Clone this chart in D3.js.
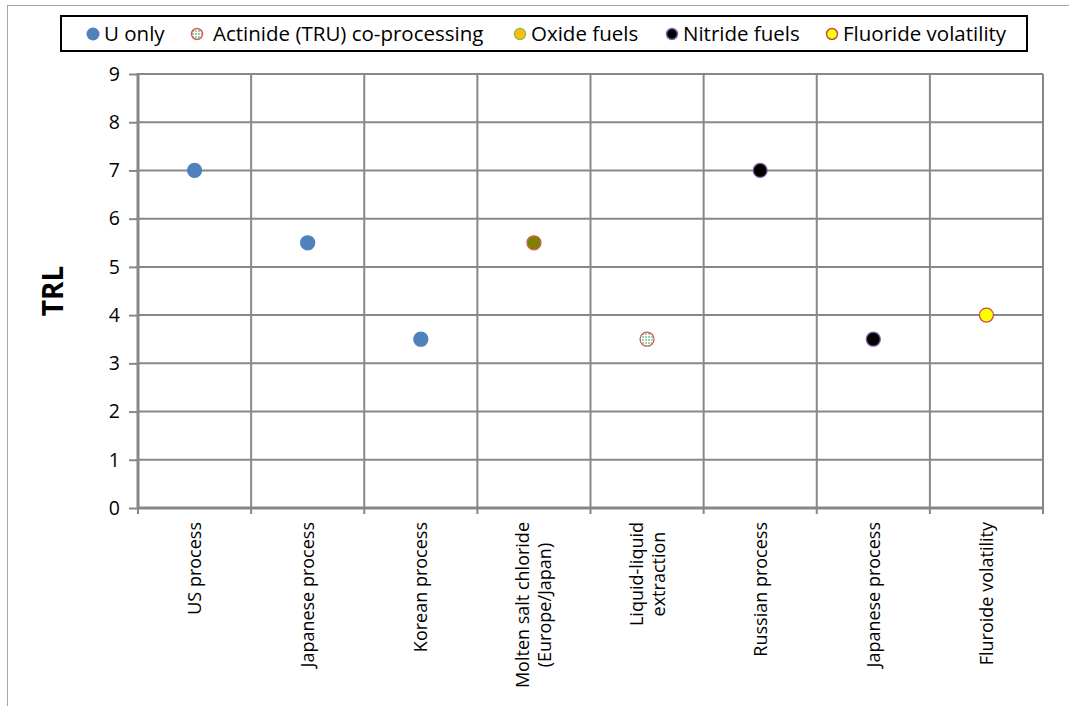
<!DOCTYPE html>
<html><head><meta charset="utf-8">
<script src="https://cdn.jsdelivr.net/npm/d3@7"></script>
<style>body{margin:0;background:#fff}svg{display:block}text{font-family:"Open Sans",Lato,sans-serif;fill:#000}</style>
</head><body><svg id="c" width="1069" height="706"></svg>
<script>
const categories = ["US process","Japanese process","Korean process","Molten salt chloride\n(Europe/Japan)","Liquid-liquid\nextraction","Russian process","Japanese process","Fluroide volatility"];
const seriesNames = ["U only","Actinide (TRU) co-processing","Oxide fuels","Nitride fuels","Fluoride volatility"];
const seriesIndex = [0,0,0,2,1,3,3,4];
const trlValues = [7,5.5,3.5,5.5,3.5,7,3.5,4];
const yTicks = [0,1,2,3,4,5,6,7,8,9];
const legendX = [93,197,520,672,832];

const styles = [
  {fill:"#4F81BD", stroke:"#4F81BD", lfill:"#4F81BD", lstroke:"#4F81BD"},
  {fill:"url(#pat)", stroke:"#D0605D", lfill:"url(#pat)", lstroke:"#D0605D"},
  {fill:"#7F7F00", stroke:"#D0605D", lfill:"#FFC000", lstroke:"#9BBB59"},
  {fill:"#000", stroke:"#8064A2", lfill:"#000", lstroke:"#8064A2"},
  {fill:"#FFFF00", stroke:"#C0504D", lfill:"#FFFF00", lstroke:"#C0504D"}
];

const svg = d3.select("#c");
const defs = svg.append("defs");
const pat = defs.append("pattern").attr("id","pat").attr("width",3).attr("height",3).attr("patternUnits","userSpaceOnUse");
pat.append("rect").attr("width",3).attr("height",3).attr("fill","#fff");
pat.append("rect").attr("width",2).attr("height",2).attr("fill","#8FD8B0");

svg.append("rect").attr("x",7.5).attr("y",5.5).attr("width",1080).attr("height",720).attr("fill","none").attr("stroke","#A6A6A6").attr("stroke-width",1);

const L=138, R=1043, T=74, B=508;
const x = d3.scaleBand().domain(d3.range(categories.length)).range([L,R]);
const y = d3.scaleLinear().domain([0,9]).range([B,T]);

const grid = "#878787";
svg.append("g").selectAll("line").data(yTicks.filter(d=>d>0)).join("line")
  .attr("x1",L).attr("x2",R).attr("y1",d=>y(d)).attr("y2",d=>y(d)).attr("stroke",grid).attr("stroke-width",2);
svg.append("g").selectAll("line").data(d3.range(1,categories.length+1)).join("line")
  .attr("x1",d=>x(d-1)+x.bandwidth()).attr("x2",d=>x(d-1)+x.bandwidth()).attr("y1",T).attr("y2",B).attr("stroke",grid).attr("stroke-width",2);

const ya = svg.append("g").attr("transform",`translate(${L},0)`).call(d3.axisLeft(y).tickValues(yTicks).tickSize(9).tickPadding(9).tickFormat(d3.format("d")));
ya.select(".domain").attr("stroke",grid).attr("stroke-width",3).attr("d",`M0,${T-1}V${B+1}`);
ya.selectAll(".tick line").attr("stroke",grid).attr("stroke-width",2);
ya.selectAll(".tick text").attr("font-size",19.5).attr("fill","#000").style("font-family","'Open Sans',Lato,sans-serif");

svg.append("line").attr("x1",L-1).attr("x2",R).attr("y1",B).attr("y2",B).attr("stroke",grid).attr("stroke-width",3);
svg.append("g").selectAll("line").data(d3.range(0,categories.length+1)).join("line")
  .attr("x1",d=>L+d*x.bandwidth()).attr("x2",d=>L+d*x.bandwidth()).attr("y1",B).attr("y2",B+6).attr("stroke",grid).attr("stroke-width",2);

const fsX = 18, lh = 22;
categories.forEach((c,i)=>{
  const lines = c.split("\n");
  const n = lines.length;
  const cx = x(i)+x.bandwidth()/2;
  const t = svg.append("text").attr("transform",`translate(${cx},522) rotate(-90)`).attr("font-size",fsX);
  lines.forEach((ln,j)=>{
    t.append("tspan").attr("x",0).attr("y", (j-(n-1)/2)*lh + fsX*0.36).text(ln);
  });
  if(n===1){ t.attr("text-anchor","end"); }
  else {
    const w = t.node().getBBox().width;
    t.attr("text-anchor","middle");
    t.selectAll("tspan").attr("x",-w/2);
  }
});

svg.append("text").attr("transform","translate(63,291) rotate(-90)").attr("text-anchor","middle").attr("font-size",28).attr("font-weight","bold").text("TRL");

svg.append("g").selectAll("circle").data(trlValues).join("circle")
  .attr("cx",(d,i)=>x(i)+x.bandwidth()/2).attr("cy",d=>y(d)).attr("r",7)
  .attr("fill",(d,i)=>styles[seriesIndex[i]].fill).attr("stroke",(d,i)=>styles[seriesIndex[i]].stroke).attr("stroke-width",1.3);

svg.append("rect").attr("x",61).attr("y",16).attr("width",966).attr("height",35).attr("fill","#fff").attr("stroke","#000").attr("stroke-width",2);
seriesNames.forEach((s,i)=>{
  svg.append("circle").attr("cx",legendX[i]).attr("cy",34).attr("r",i===0?6.5:5.5).attr("fill",styles[i].lfill).attr("stroke",styles[i].lstroke).attr("stroke-width",i===0?0:1.5);
  svg.append("text").attr("x",legendX[i]+(i===1?16:11)).attr("y",41).attr("font-size",20.5).text(s);
});
</script></body></html>
